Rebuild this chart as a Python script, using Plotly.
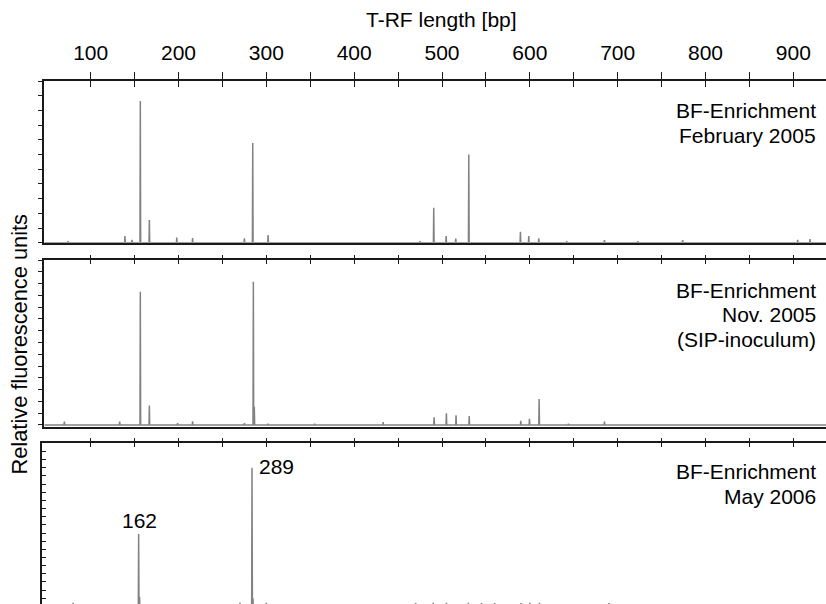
import plotly.graph_objects as go

# ---------------- data ----------------
# Panel 1: BF-Enrichment February 2005
feb05_bp = [74, 139, 147, 156.5, 166.8, 198, 216, 275, 284.5, 302, 475, 490.6, 504.7,
            515.7, 530.5, 589.3, 598.8, 610.2, 642, 685, 723, 774, 905, 919]
feb05_rfu = [0.1, 0.45, 0.2, 9.64, 1.54, 0.35, 0.32, 0.3, 6.79, 0.52, 0.1, 2.38, 0.45,
             0.28, 6.0, 0.75, 0.45, 0.3, 0.1, 0.18, 0.1, 0.18, 0.2, 0.25]

# Panel 2: BF-Enrichment Nov. 2005 (SIP-inoculum)
nov05_bp = [70, 133, 156.5, 166.8, 199, 216, 275, 285.2, 286.3, 302, 355, 433, 491, 505,
            516, 531, 589.7, 599.6, 610.6, 644, 685]
nov05_rfu = [0.28, 0.28, 11.3, 1.64, 0.15, 0.3, 0.15, 12.15, 1.55, 0.1, 0.1, 0.23, 0.65,
             0.99, 0.82, 0.76, 0.34, 0.53, 2.2, 0.1, 0.28]

# Panel 3: BF-Enrichment May 2006
may06_bp = [80, 154.6, 155.6, 270, 283.7, 284.7, 300, 470, 490, 505, 530, 545, 560, 590,
            600, 611, 690]
may06_rfu = [0.45, 8.88, 1.2, 0.45, 17.0, 1.0, 0.45, 0.4, 0.45, 0.45, 0.45, 0.4, 0.4,
             0.4, 0.45, 0.45, 0.4]

panel_texts = [["BF-Enrichment", "February 2005"],
               ["BF-Enrichment", "Nov. 2005", "(SIP-inoculum)"],
               ["BF-Enrichment", "May 2006"]]
peak_labels = ["162", "289"]
peak_label_bp = [154.6, 283.7]
peak_label_rfu = [8.88, 17.0]

major_ticks = [100, 200, 300, 400, 500, 600, 700, 800, 900]
minor_ticks = [150, 250, 350, 450, 550, 650, 750, 850]

x_title = "T-RF length [bp]"
y_title = "Relative fluorescence units"

# ---------------- layout geometry ----------------
W, H = 826, 604
ML, MT = 42, 81
PW, PH = W - ML, H - MT
PX_PER_BP = 0.87825
PX_100 = 90.7


def yfrac(ypx):
    return (H - ypx) / PH


def bp_at(px):
    return 100 + (px - PX_100) / PX_PER_BP


X_RIGHT = bp_at(W)
panels = [
    dict(bp=feb05_bp, v=feb05_rfu, dom=[yfrac(242.7), 1.0], x0=44.3, yr=[0, 11],
         ticks="outside", ylen=5, mirror=True, xo=7, xi=6),
    dict(bp=nov05_bp, v=nov05_rfu, dom=[yfrac(426.7), yfrac(260)], x0=44.3,
         yr=[-0.15, 14], ticks="outside", ylen=5, mirror=True, xo=3.5, xi=3.5),
    dict(bp=may06_bp, v=may06_rfu, dom=[0.0, yfrac(443.3)], x0=42.0, yr=[0.3, 20],
         ticks="inside", ylen=4, mirror=False, xo=3.5, xi=3.5),
]

tickvals = sorted(major_ticks + minor_ticks)
ticktext = [str(t) if t in major_ticks else "" for t in tickvals]

FONT = "Liberation Sans, Arial, Helvetica, sans-serif"
FS = 21
LINE = "#1a1a1a"
TRACE = "rgb(130,130,130)"

fig = go.Figure()
layout = {}
for i, p in enumerate(panels):
    n = i + 1
    xs, ys = [bp_at(p["x0"])], [0]
    for b, v in sorted(zip(p["bp"], p["v"])):
        xs += [b - 0.4, b, b + 0.4]
        ys += [0, v, 0]
    xs.append(X_RIGHT)
    ys.append(0)
    fig.add_trace(go.Scatter(x=xs, y=ys, mode="lines", xaxis=f"x{n}", yaxis=f"y{n}",
                             line=dict(color=TRACE, width=1.5), showlegend=False,
                             hoverinfo="skip"))
    # overlay axis carrying the inward half of the crossing ticks
    fig.add_trace(go.Scatter(x=[None], y=[None], xaxis=f"x{n+3}", yaxis=f"y{n}",
                             showlegend=False, hoverinfo="skip"))
    xr = [bp_at(p["x0"]), X_RIGHT]
    xdom = [(p["x0"] - ML) / PW, 1.0]
    layout[f"xaxis{n}"] = dict(
        domain=xdom, range=xr, anchor=f"y{n}", side="top", showline=True,
        linecolor=LINE, linewidth=1.5, mirror=p["mirror"], ticks="outside",
        ticklen=p["xo"], tickwidth=1.3, tickcolor=LINE, tickmode="array",
        tickvals=tickvals, ticktext=ticktext, showticklabels=(n == 1),
        tickfont=dict(family=FONT, size=FS, color="black"), ticklabelstandoff=4,
        showgrid=False, zeroline=False, fixedrange=True)
    layout[f"xaxis{n+3}"] = dict(
        domain=xdom, range=xr, anchor=f"y{n}", overlaying=f"x{n}", side="top",
        showline=False, ticks="inside", ticklen=p["xi"], tickwidth=1.3,
        tickcolor=LINE, tickmode="array", tickvals=tickvals, showticklabels=False,
        showgrid=False, zeroline=False, fixedrange=True)
    layout[f"yaxis{n}"] = dict(
        domain=p["dom"], range=p["yr"], anchor=f"x{n}", showline=True,
        linecolor=LINE, linewidth=1.5, mirror=False, ticks=p["ticks"],
        ticklen=p["ylen"], tickwidth=1.2, tickcolor=LINE, dtick=1, tick0=0,
        showticklabels=False, showgrid=False, zeroline=False, fixedrange=True)

annotations = []
# panel captions (right aligned), one annotation per line for tight line spacing
first_line_centers = [110.5, 290.0, 471.3]
LINE_STEP = 24.7
for lines, y0 in zip(panel_texts, first_line_centers):
    for k, txt in enumerate(lines):
        annotations.append(dict(text=txt, xref="paper", yref="paper",
                                x=(817.7 - ML) / PW, y=yfrac(y0 + k * LINE_STEP),
                                xanchor="right", yanchor="middle", align="right",
                                showarrow=False,
                                font=dict(family=FONT, size=FS, color="black")))
# peak labels in panel 3
annotations.append(dict(text=peak_labels[0], xref="x3", yref="y3", x=peak_label_bp[0],
                        y=peak_label_rfu[0], xanchor="center", yanchor="bottom",
                        showarrow=False, xshift=1,
                        font=dict(family=FONT, size=FS, color="black")))
annotations.append(dict(text=peak_labels[1], xref="x3", yref="y3", x=peak_label_bp[1],
                        y=peak_label_rfu[1], xanchor="left", yanchor="middle",
                        showarrow=False, xshift=5, yshift=1,
                        font=dict(family=FONT, size=FS, color="black")))
# axis titles
annotations.append(dict(text=x_title, xref="paper", yref="paper", x=(441.7 - ML) / PW,
                        y=yfrac(19.5), xanchor="center", yanchor="middle",
                        showarrow=False, font=dict(family=FONT, size=FS, color="black")))
annotations.append(dict(text=y_title, xref="paper", yref="paper", x=(19 - ML) / PW,
                        y=yfrac(344.5), xanchor="center", yanchor="middle",
                        textangle=-90, showarrow=False,
                        font=dict(family=FONT, size=21.8, color="black")))

fig.update_layout(
    width=W, height=H, margin=dict(l=ML, r=0, t=MT, b=0, pad=0),
    paper_bgcolor="white", plot_bgcolor="white", showlegend=False,
    annotations=annotations, font=dict(family=FONT, size=FS, color="black"),
    **layout)

fig.write_html("out.html", config={"displayModeBar": False},
               post_script="document.body.style.margin='0';"
                           "document.body.style.padding='0';"
                           "document.body.style.overflow='hidden';")
